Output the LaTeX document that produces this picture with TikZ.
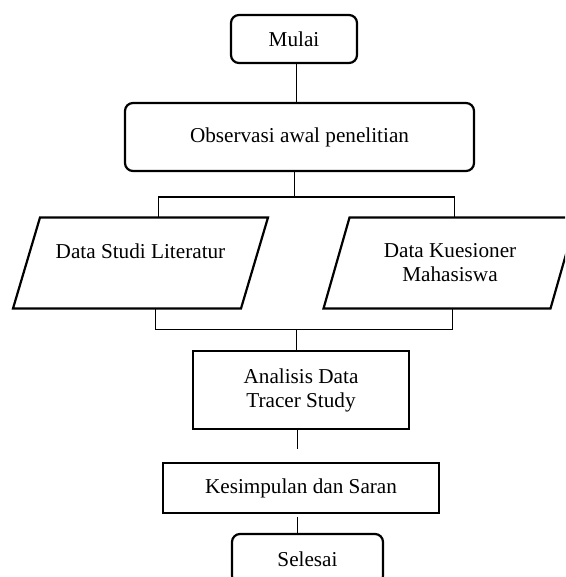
\documentclass[tikz,border=0pt]{standalone}
\usepackage{fontspec}
\setmainfont{Liberation Serif}
\begin{document}
\begin{tikzpicture}[x=1pt,y=-1pt,
  txt/.style={inner sep=0pt,outer sep=0pt,align=center,font=\fontsize{21.2}{24}\selectfont},
  box/.style={txt,draw,line width=2.2pt},
  rbox/.style={box,rounded corners=8pt},
  paraline/.style={line width=2.2pt,line join=miter},
  link/.style={line width=1pt}]
\useasboundingbox (0,0) rectangle (565,577);
\clip (0,0) rectangle (565,577);
\fill[white] (0,0) rectangle (565,577);

% nodes
\node[rbox,minimum width=126pt,minimum height=48pt] (start) at (294,39) {Mulai};
\node[rbox,minimum width=349pt,minimum height=68pt] (obs) at (299.5,137) {Observasi awal penelitian};
\node[txt,minimum width=255pt,minimum height=91pt] (lit) at (140.5,263) {Data Studi Literatur\\ \mbox{}};
\node[txt,minimum width=253pt,minimum height=91pt] (kue) at (450,263) {Data Kuesioner\\ Mahasiswa};
\node[box,minimum width=216pt,minimum height=78pt] (ana) at (301,390) {Analisis Data\\ Tracer Study};
\node[box,minimum width=276pt,minimum height=50pt] (kes) at (301,488) {Kesimpulan dan Saran};
\node[rbox,minimum width=151pt,minimum height=50pt] (end) at (307.5,559) {Selesai};

% parallelograms
\draw[paraline] ([xshift=27pt]lit.north west) -- (lit.north east)
  -- ([xshift=-27pt]lit.south east) -- (lit.south west) -- cycle;
\draw[paraline] ([xshift=26pt]kue.north west) -- (kue.north east)
  -- ([xshift=-26pt]kue.south east) -- (kue.south west) -- cycle;

% connectors
\draw[link] ([xshift=2pt]start.south) -- ([xshift=2pt]start.south |- obs.north);

\coordinate (split) at (294,197);
\coordinate (tl) at (158,197);
\coordinate (tr) at (454,197);
\draw[link] (split |- obs.south) -- (split);
\draw[link] (tl |- lit.north) -- (tl) -- (tr) -- (tr |- kue.north);

\coordinate (bl) at (155.7,329);
\coordinate (br) at (452.3,329);
\coordinate (join) at (296.7,329);
\draw[link] (bl |- lit.south) -- (bl) -- (br) -- (br |- kue.south);
\draw[link] (join) -- (join |- ana.north);

\draw[link,shorten >=14pt] ([xshift=-3.3pt]ana.south) -- ([xshift=-3.3pt]ana.south |- kes.north);
\draw[link,shorten <=4pt] ([xshift=-3.3pt]kes.south) -- ([xshift=-3.3pt]kes.south |- end.north);
\end{tikzpicture}
\end{document}
